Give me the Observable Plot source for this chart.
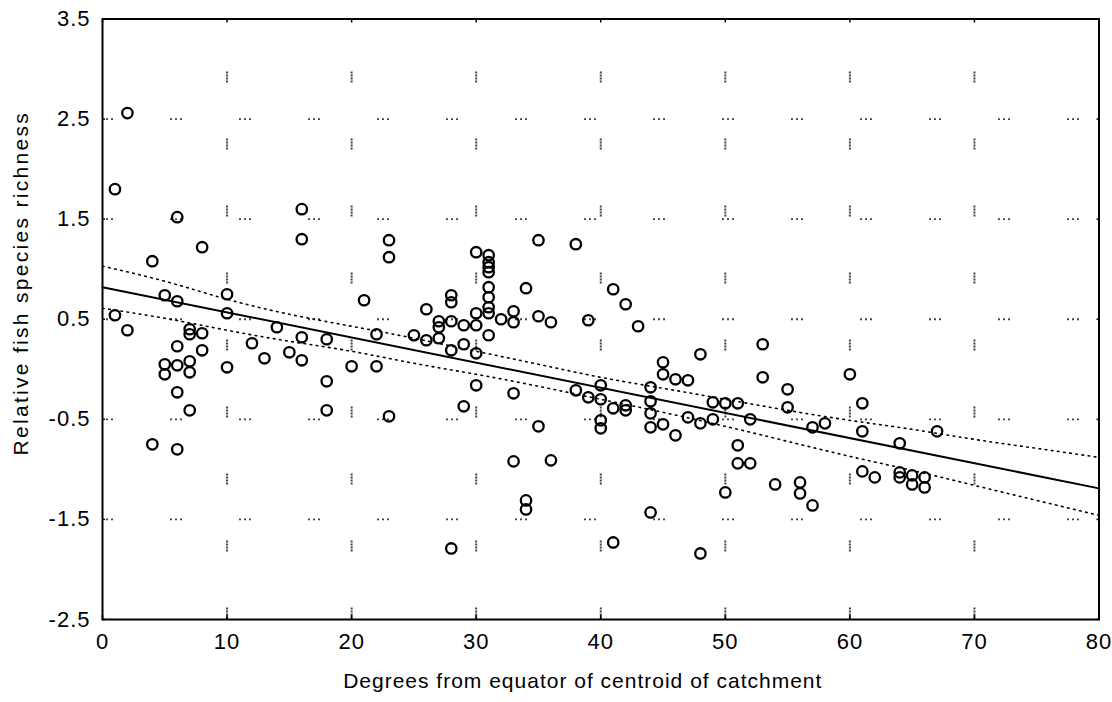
<!DOCTYPE html>
<html>
<head>
<meta charset="utf-8">
<script src="https://cdn.jsdelivr.net/npm/d3@7"></script>
<script src="https://cdn.jsdelivr.net/npm/@observablehq/plot@0.6"></script>
<style>
  html, body { margin: 0; padding: 0; background: #fff; }
  #chart { width: 1112px; height: 702px; }
</style>
</head>
<body>
<div id="chart"></div>
<script>
// ---- data ----
const degrees = [
  1,2,1,2,4,6,8,5,6,7,
  7,8,6,8,5,5,6,7,7,6,
  7,4,6,18,23,10,10,10,12,13,
  14,15,16,16,16,16,18,18,20,21,
  22,22,23,23,25,26,26,27,27,27,
  28,28,28,28,29,29,30,30,30,30,
  30,31,31,31,31,31,31,31,31,31,
  32,33,33,33,29,34,35,35,36,35,
  38,38,39,39,41,42,43,40,40,40,
  40,41,42,42,45,45,46,47,48,44,
  44,44,44,45,46,47,48,49,49,50,
  51,52,51,51,52,50,53,53,54,55,
  55,56,56,57,57,58,60,61,61,61,
  62,44,64,64,64,67,65,65,66,66,
  33,36,34,34,28,41,48
];
const richness = [
  1.80,2.56,0.54,0.39,1.08,1.52,1.22,0.74,0.68,0.40,
  0.35,0.36,0.23,0.19,0.05,-0.05,0.04,0.08,-0.03,-0.23,
  -0.41,-0.75,-0.80,-0.41,-0.47,0.75,0.56,0.02,0.26,0.11,
  0.42,0.17,1.60,1.30,0.32,0.09,0.30,-0.12,0.03,0.69,
  0.35,0.03,1.29,1.12,0.34,0.60,0.29,0.48,0.42,0.31,
  0.74,0.67,0.48,0.19,0.44,0.25,1.17,0.56,0.44,0.16,
  -0.16,1.14,1.07,1.02,0.97,0.82,0.72,0.62,0.56,0.34,
  0.50,0.58,0.47,-0.24,-0.37,0.81,1.29,0.53,0.47,-0.57,
  1.25,-0.21,-0.28,0.49,0.80,0.65,0.43,-0.16,-0.30,-0.51,
  -0.59,-0.39,-0.36,-0.41,0.07,-0.05,-0.10,-0.11,0.15,-0.18,
  -0.32,-0.44,-0.58,-0.55,-0.66,-0.48,-0.54,-0.33,-0.50,-0.34,
  -0.34,-0.50,-0.76,-0.94,-0.94,-1.23,0.25,-0.08,-1.15,-0.20,
  -0.38,-1.13,-1.24,-1.36,-0.58,-0.54,-0.05,-0.34,-0.62,-1.02,
  -1.08,-1.43,-0.74,-1.03,-1.08,-0.62,-1.06,-1.15,-1.08,-1.18,
  -0.92,-0.91,-1.31,-1.40,-1.79,-1.73,-1.84
];

// regression line (end points)
const fitX = [0, 80];
const fitY = [0.82, -1.19];

// confidence band
const bandX     = [0, 5, 10, 15, 20, 25, 30, 35, 40, 45, 50, 55, 60, 65, 70, 75, 80];
const bandUpper = [1.03, 0.88, 0.70, 0.55, 0.43, 0.31, 0.18, 0.05, -0.08, -0.19, -0.30, -0.41, -0.51, -0.60, -0.70, -0.79, -0.88];
const bandLower = [0.61, 0.51, 0.39, 0.28, 0.18, 0.06, -0.05, -0.17, -0.30, -0.43, -0.57, -0.72, -0.87, -1.01, -1.16, -1.31, -1.46];

// axes
const xTicks = [0, 10, 20, 30, 40, 50, 60, 70, 80];
const yTicks = [-2.5, -1.5, -0.5, 0.5, 1.5, 2.5, 3.5];
const xGrid = [10, 20, 30, 40, 50, 60, 70];
const yGrid = [-1.5, -0.5, 0.5, 1.5, 2.5];

const xTitle = "Degrees from equator of centroid of catchment";
const yTitle = "Relative fish species richness";

// ---- tables built from the arrays ----
const points = degrees.map((d, i) => ({x: d, y: richness[i]}));
const fit = fitX.map((d, i) => ({x: d, y: fitY[i]}));
const upper = bandX.map((d, i) => ({x: d, y: bandUpper[i]}));
const lower = bandX.map((d, i) => ({x: d, y: bandLower[i]}));

const font = "'Liberation Sans', Arial, sans-serif";

const chart = Plot.plot({
  width: 1112,
  height: 702,
  marginLeft: 102,
  marginRight: 13.5,
  marginTop: 18.5,
  marginBottom: 83,
  style: {fontFamily: font, fontSize: "22px", background: "#fff", color: "#000", overflow: "visible"},
  x: {domain: [0, 80]},
  y: {domain: [-2.5, 3.5]},
  marks: [
    // sparse dotted grid
    Plot.ruleX(xGrid, {stroke: "#444", strokeWidth: 2, strokeDasharray: "2,1,2,1,2,1,2,56", strokeDashoffset: 14}),
    Plot.ruleY(yGrid, {stroke: "#444", strokeWidth: 1.8, strokeDasharray: "2,3,2,3,2,57", strokeDashoffset: 1}),
    // inward tick marks on all four sides
    Plot.axisX(xTicks, {anchor: "bottom", tickSize: 4, dy: -4, tickFormat: () => "", label: null, strokeWidth: 1.5}),
    Plot.axisX(xTicks, {anchor: "top", tickSize: 3, dy: 3, tickFormat: () => "", label: null, strokeWidth: 1.5}),
    Plot.axisY(yTicks, {anchor: "left", tickSize: 3, dx: 3, tickFormat: () => "", label: null, strokeWidth: 1.5}),
    Plot.axisY(yTicks, {anchor: "right", tickSize: 3, dx: -3, tickFormat: () => "", label: null, strokeWidth: 1.5}),
    // tick labels
    Plot.axisX(xTicks, {anchor: "bottom", tickSize: 0, tickPadding: 14, label: null, tickFormat: d => String(d)}),
    Plot.axisY(yTicks, {anchor: "left", tickSize: 0, tickPadding: 12, label: null, tickFormat: d => d.toFixed(1)}),
    // confidence band (dotted)
    Plot.line(upper, {x: "x", y: "y", curve: "natural", stroke: "#000", strokeWidth: 1.6, strokeDasharray: "1.6,4.6"}),
    Plot.line(lower, {x: "x", y: "y", curve: "natural", stroke: "#000", strokeWidth: 1.6, strokeDasharray: "1.6,4.6"}),
    // regression line
    Plot.line(fit, {x: "x", y: "y", stroke: "#000", strokeWidth: 2}),
    // points
    Plot.dot(points, {x: "x", y: "y", r: 5.2, stroke: "#000", strokeWidth: 2.3, fill: "none"}),
    // frame
    Plot.frame({stroke: "#000", strokeWidth: 2}),
    // axis titles
    Plot.text([xTitle], {frameAnchor: "bottom", dy: 68, dx: -18, text: d => d, fontSize: 21, fill: "#000", textAnchor: "middle"}),
    Plot.text([yTitle], {frameAnchor: "left", dx: -81, dy: -36, rotate: -90, text: d => d, fontSize: 21, fill: "#000", textAnchor: "middle"})
  ]
});

const svg = d3.select(chart);
svg.selectAll("text").style("letter-spacing", "1px");
svg.selectAll("text").filter(function() { return this.textContent === yTitle; }).style("letter-spacing", "2.3px");
document.getElementById("chart").appendChild(chart);
</script>
</body>
</html>
